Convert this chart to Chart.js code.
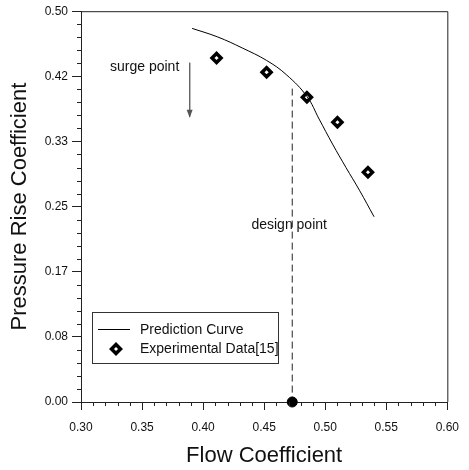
<!DOCTYPE html>
<html>
<head>
<meta charset="utf-8">
<script src="https://cdn.jsdelivr.net/npm/chart.js@4/dist/chart.umd.min.js"></script>
<style>
html, body { margin: 0; padding: 0; background: #fff; }
</style>
</head>
<body>
<canvas id="pressure-chart" width="469" height="470"></canvas>
<script>
// prediction curve
const curveFlow = [0.391, 0.412, 0.432, 0.452, 0.468, 0.485, 0.495, 0.506, 0.517, 0.528, 0.540];
const curvePressure = [0.478, 0.467, 0.453, 0.437, 0.419, 0.391, 0.362, 0.330, 0.300, 0.271, 0.237];

// experimental data [15]
const expFlow = [0.411, 0.452, 0.485, 0.510, 0.535];
const expPressure = [0.440, 0.422, 0.390, 0.358, 0.294];

// design point (dashed line down to the axis)
const designFlow = [0.473, 0.473];
const designPressure = [0.401, 0.0];

// surge point arrow
const surgeFlow = [0.389, 0.389];
const surgePressure = [0.434, 0.365];

const xTickLabels = ['0.30', '0.35', '0.40', '0.45', '0.50', '0.55', '0.60'];
const yTickLabels = ['0.00', '0.08', '0.17', '0.25', '0.33', '0.42', '0.50'];
const yTickValues = [0, 0.5 / 6, 1 / 6, 0.25, 2 / 6, 2.5 / 6, 0.5];

const FONT = '"Liberation Sans", Arial, sans-serif';
const INK = '#000';

function pts(xs, ys) {
    return xs.map((x, i) => ({ x: x, y: ys[i] }));
}

// minor ticks, top/right frame, text labels, arrow head and legend box
const extras = {
    id: 'extras',
    afterDraw(chart) {
        const ctx = chart.ctx;
        const xs = chart.scales.x, ys = chart.scales.y;
        const a = chart.chartArea;
        ctx.save();
        ctx.strokeStyle = '#222';
        ctx.lineWidth = 1;

        // frame
        ctx.beginPath();
        ctx.moveTo(a.left, a.top + 0.5);
        ctx.lineTo(a.right + 0.5, a.top + 0.5);
        ctx.lineTo(a.right + 0.5, a.bottom);
        ctx.stroke();

        // minor ticks
        ctx.beginPath();
        for (let i = 1; i < 30; i++) {
            if (i % 5 === 0) continue;
            const px = Math.round(xs.getPixelForValue(0.3 + i * 0.01)) + 0.5;
            ctx.moveTo(px, a.bottom);
            ctx.lineTo(px, a.bottom + 4);
        }
        for (let i = 1; i < 30; i++) {
            if (i % 5 === 0) continue;
            const py = Math.round(ys.getPixelForValue(i * 0.5 / 30)) + 0.5;
            ctx.moveTo(a.left, py);
            ctx.lineTo(a.left - 4, py);
        }
        ctx.stroke();

        // arrow head on the surge arrow
        const arrow = chart.getDatasetMeta(3).data;
        const tip = arrow[arrow.length - 1];
        ctx.fillStyle = '#555';
        ctx.beginPath();
        ctx.moveTo(tip.x, tip.y + 1);
        ctx.lineTo(tip.x - 3, tip.y - 7);
        ctx.lineTo(tip.x + 3, tip.y - 7);
        ctx.closePath();
        ctx.fill();

        // annotation text
        ctx.fillStyle = '#111';
        ctx.font = '14px ' + FONT;
        ctx.textBaseline = 'middle';
        ctx.textAlign = 'right';
        ctx.fillText('surge point', xs.getPixelForValue(0.3805), ys.getPixelForValue(0.429));
        ctx.textAlign = 'center';
        ctx.fillText('design point', xs.getPixelForValue(0.4705), ys.getPixelForValue(0.226));

        // legend
        const lx = a.left + 11, ly = a.bottom - 90;
        ctx.strokeStyle = '#333';
        ctx.strokeRect(lx + 0.5, ly + 0.5, 186, 51);
        ctx.strokeStyle = INK;
        ctx.beginPath();
        ctx.moveTo(lx + 6, ly + 17.5);
        ctx.lineTo(lx + 38, ly + 17.5);
        ctx.stroke();
        ctx.fillStyle = '#fff';
        ctx.lineWidth = 3.5;
        Chart.helpers.drawPoint(ctx, {
            pointStyle: 'rectRot', radius: 4.5, borderWidth: 3.5
        }, lx + 24, ly + 37);
        ctx.fillStyle = '#111';
        ctx.textAlign = 'left';
        ctx.fillText('Prediction Curve', lx + 48, ly + 18);
        ctx.fillText('Experimental Data[15]', lx + 48, ly + 37);
        ctx.restore();
    }
};

function axisStyle(title, labels, values, size) {
    return {
        type: 'linear',
        min: values[0],
        max: values[values.length - 1],
        afterBuildTicks: s => { s.ticks = values.map(v => ({ value: v })); },
        afterFit: s => {
            if (s.isHorizontal()) s.height = size; else s.width = size;
        },
        grid: {
            display: true, drawOnChartArea: false, drawTicks: true,
            tickLength: 8, color: '#222'
        },
        border: { display: true, color: '#222', width: 1 },
        ticks: {
            autoSkip: false, maxRotation: 0, color: '#111',
            font: { family: FONT, size: 12 },
            padding: 4,
            callback: (v, i) => labels[i]
        },
        title: {
            display: true, text: title, color: '#111',
            font: { family: FONT, size: 22 },
            padding: { top: 0, bottom: 0 }
        }
    };
}

const xScale = axisStyle('Flow Coefficient', xTickLabels, xTickLabels.map(Number), 68);
xScale.ticks.padding = 10;
xScale.title.padding = { top: 0, bottom: 1 };
const yScale = axisStyle('Pressure Rise Coefficient', yTickLabels, yTickValues, 81);
yScale.grid.tickLength = 9;
yScale.title.padding = { top: 7, bottom: 0 };

new Chart(document.getElementById('pressure-chart'), {
    type: 'scatter',
    data: {
        datasets: [
            {
                label: 'Prediction Curve',
                data: pts(curveFlow, curvePressure),
                showLine: true,
                borderColor: INK,
                borderWidth: 1,
                tension: 0.4,
                pointRadius: 0
            },
            {
                label: 'Experimental Data[15]',
                data: pts(expFlow, expPressure),
                pointStyle: 'rectRot',
                pointRadius: 4.5,
                borderWidth: 3.5,
                borderColor: '#000',
                backgroundColor: '#fff'
            },
            {
                label: 'design point',
                data: pts(designFlow, designPressure),
                showLine: true,
                borderColor: '#222',
                borderWidth: 1,
                borderDash: [7, 4],
                pointRadius: [0, 5],
                pointBackgroundColor: '#000',
                pointBorderColor: '#000',
                clip: false
            },
            {
                label: 'surge point',
                data: pts(surgeFlow, surgePressure),
                showLine: true,
                borderColor: '#666',
                borderWidth: 1,
                pointRadius: 0
            }
        ]
    },
    options: {
        responsive: false,
        animation: false,
        layout: { padding: { top: 11, right: 21, left: 0, bottom: 0 } },
        plugins: {
            legend: { display: false },
            tooltip: { enabled: false }
        },
        scales: { x: xScale, y: yScale }
    },
    plugins: [extras]
});
</script>
</body>
</html>
